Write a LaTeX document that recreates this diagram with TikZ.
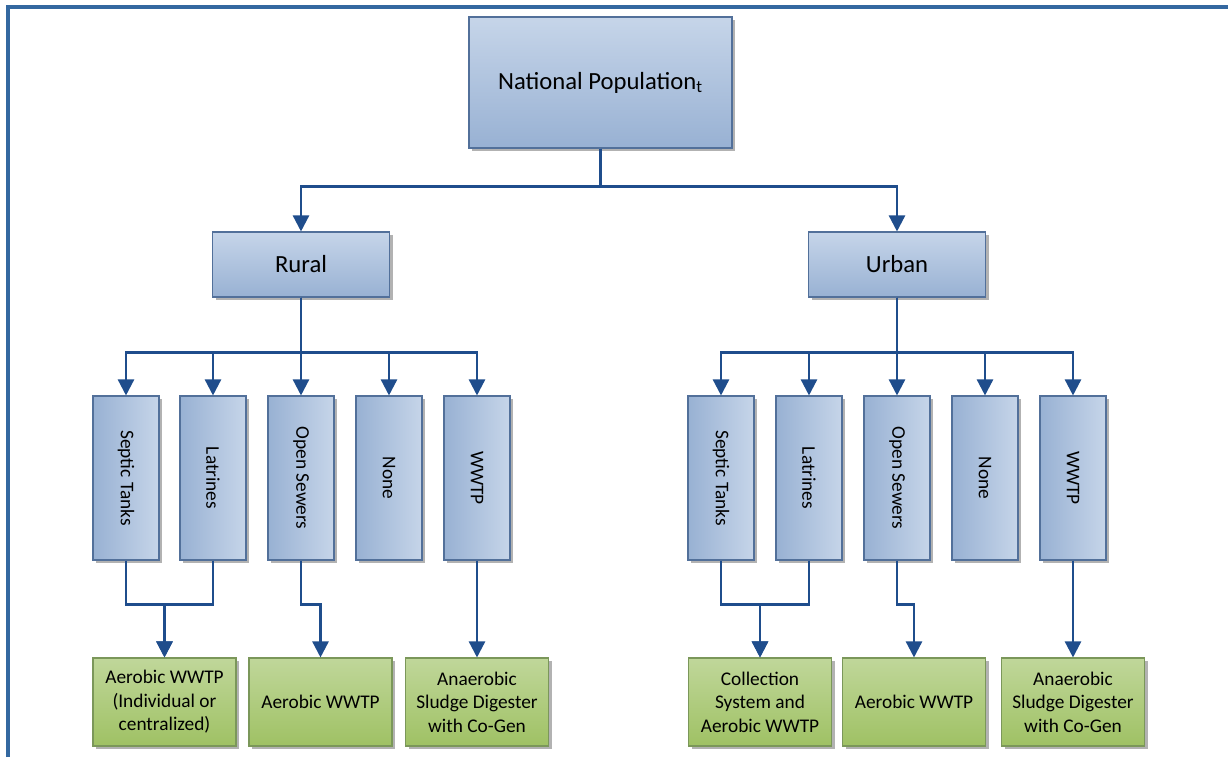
\documentclass[tikz,border=0pt]{standalone}
\usepackage{fontspec}
\setmainfont{Carlito}
\usepackage{graphicx}
\usetikzlibrary{arrows.meta,shadows}
\definecolor{framecol}{HTML}{3468A0}
\definecolor{linkcol}{HTML}{1F4D8C}
\definecolor{boxedge}{HTML}{52709A}
\definecolor{boxlight}{HTML}{C6D5E9}
\definecolor{boxdark}{HTML}{98B1D3}
\definecolor{greenedge}{HTML}{7B975A}
\definecolor{greenlight}{HTML}{C0D79A}
\definecolor{greendark}{HTML}{9FC164}
\tikzset{
  boxshadow/.style={drop shadow={shadow xshift=2.3pt,shadow yshift=-2.3pt,opacity=0.55,fill=black!55}},
  bluebox/.style={draw=boxedge,line width=0.8pt,top color=boxlight,bottom color=boxdark,
    boxshadow,inner sep=1pt,font=\fontsize{18.5}{22}\selectfont},
  tallbox/.style={draw=boxedge,line width=0.8pt,left color=boxdark,right color=boxlight,
    boxshadow,inner sep=1pt,minimum width=49.5pt,minimum height=123pt,
    font=\fontsize{14.5}{17.5}\selectfont},
  greenbox/.style={draw=greenedge,line width=0.8pt,top color=greenlight,bottom color=greendark,
    boxshadow,inner sep=1pt,align=center,minimum width=107.25pt,minimum height=66pt,
    font=\fontsize{14.5}{17.6}\selectfont},
  conn/.style={draw=linkcol,line width=1.8pt,-{Triangle[width=12pt,length=12pt]}}
}
\begin{document}
\begin{tikzpicture}[x=0.75pt,y=-0.75pt]
\useasboundingbox (0,0) rectangle (1228,757);
\draw[framecol,line width=3pt] (8,757) -- (8,7) -- (1228,7);

% top level and the two groups
\node[bluebox,minimum width=197.25pt,minimum height=98.25pt] (nat) at (600.5,82.5) {National Population\textsubscript{t}};
\node[bluebox,minimum width=132.75pt,minimum height=48.75pt] (rural) at (301,264.5) {Rural};
\node[bluebox,minimum width=132.75pt,minimum height=48.75pt] (urban) at (897,264.5) {Urban};

% sanitation types
\node[tallbox] (rst) at (126,478) {\rotatebox{-90}{Septic Tanks}};
\node[tallbox] (rlat) at (213,478) {\rotatebox{-90}{Latrines}};
\node[tallbox] (rsew) at (301,478) {\rotatebox{-90}{Open Sewers}};
\node[tallbox] (rnone) at (389,478) {\rotatebox{-90}{None}};
\node[tallbox] (rwwtp) at (477,478) {\rotatebox{-90}{WWTP}};
\node[tallbox] (ust) at (721,478) {\rotatebox{-90}{Septic Tanks}};
\node[tallbox] (ulat) at (809,478) {\rotatebox{-90}{Latrines}};
\node[tallbox] (usew) at (897,478) {\rotatebox{-90}{Open Sewers}};
\node[tallbox] (unone) at (985,478) {\rotatebox{-90}{None}};
\node[tallbox] (uwwtp) at (1073,478) {\rotatebox{-90}{WWTP}};

% treatment
\node[greenbox] (rtreat) at (164.5,702) {Aerobic WWTP\\(Individual or\\centralized)};
\node[greenbox] (raer) at (320.5,702) {Aerobic WWTP};
\node[greenbox] (rdig) at (477,702) {Anaerobic\\Sludge Digester\\with Co-Gen};
\node[greenbox] (ucoll) at (760,702) {Collection\\System and\\Aerobic WWTP};
\node[greenbox] (uaer) at (914,702) {Aerobic WWTP};
\node[greenbox] (udig) at (1073,702) {Anaerobic\\Sludge Digester\\with Co-Gen};

\draw[conn] (nat.south) -- ++(0,38) -| (rural.north);
\draw[conn] (nat.south) -- ++(0,38) -| (urban.north);
\foreach \n in {st,lat,sew,none,wwtp} {
  \draw[conn] (rural.south) -- ++(0,55) -| (r\n.north);
  \draw[conn] (urban.south) -- ++(0,55) -| (u\n.north);
}

\draw[conn] (rst.south) -- ++(0,44) -| (rtreat.north);
\draw[conn] (rlat.south) -- ++(0,44) -| (rtreat.north);
\draw[conn] (rsew.south) -- ++(0,44) -| (raer.north);
\draw[conn] (rwwtp.south) -- (rdig.north);
\draw[conn] (ust.south) -- ++(0,44) -| (ucoll.north);
\draw[conn] (ulat.south) -- ++(0,44) -| (ucoll.north);
\draw[conn] (usew.south) -- ++(0,44) -| (uaer.north);
\draw[conn] (uwwtp.south) -- (udig.north);
\end{tikzpicture}
\end{document}
